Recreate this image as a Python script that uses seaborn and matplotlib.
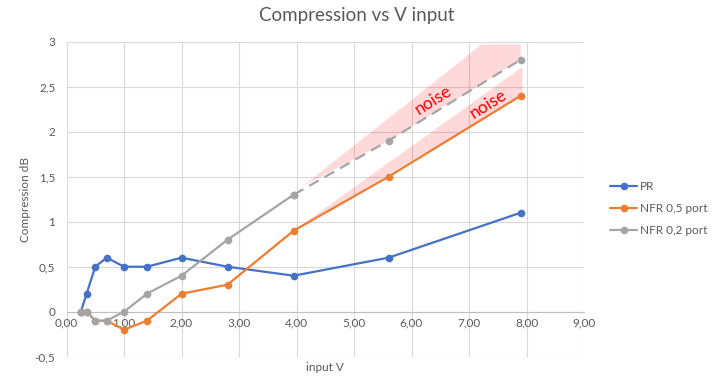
import pandas as pd
import matplotlib.pyplot as plt
import seaborn as sns
from matplotlib.ticker import FuncFormatter, MultipleLocator
from matplotlib.lines import Line2D

# Data
input_v = [0.25, 0.35, 0.5, 0.7, 1.0, 1.4, 2.0, 2.8, 3.95, 5.6, 7.9]
pr = [0, 0.2, 0.5, 0.6, 0.5, 0.5, 0.6, 0.5, 0.4, 0.6, 1.1]
nfr_05 = [0, 0, -0.1, -0.1, -0.2, -0.1, 0.2, 0.3, 0.9, 1.5, 2.4]
nfr_02 = [0, 0, -0.1, -0.1, 0, 0.2, 0.4, 0.8, 1.3, 1.9, 2.8]
labels = ['PR', 'NFR 0,5 port', 'NFR 0,2 port']
colors = ['#4472C4', '#ED7D31', '#A5A5A5']

# "noise" bands (x, y corners)
band_02_x = [4.1, 7.22, 7.9, 7.9, 5.6]
band_02_y = [1.39, 2.97, 2.97, 2.8, 1.9]
band_05_x = [3.95, 7.93, 7.93]
band_05_y = [0.9, 2.72, 2.4]

df = pd.DataFrame({'input V': input_v, 'PR': pr,
                   'NFR 0,5 port': nfr_05, 'NFR 0,2 port': nfr_02})

sns.set_theme(style='white')
plt.rcParams['font.family'] = ['Lato', 'DejaVu Sans']
text_col = '#595959'

fig = plt.figure(figsize=(7.13, 3.86), dpi=100)
ax = fig.add_axes([66.5 / 713, 1 - 356.7 / 386, (584 - 66.5) / 713, (356.7 - 41.7) / 386])

# noise shading
ax.fill(band_02_x, band_02_y, color='#ff0000', alpha=0.15, lw=0, zorder=1)
ax.fill(band_05_x, band_05_y, color='#ff0000', alpha=0.15, lw=0, zorder=1)

line_kw = dict(marker='o', markersize=5.5, linewidth=1.6, markeredgewidth=0)
sns.lineplot(data=df, x='input V', y='PR', color=colors[0], ax=ax, zorder=3, **line_kw)
sns.lineplot(data=df, x='input V', y='NFR 0,5 port', color=colors[1], ax=ax, zorder=3, **line_kw)
solid = df[df['input V'] <= 3.95]
dashed = df[df['input V'] >= 3.95]
sns.lineplot(data=solid, x='input V', y='NFR 0,2 port', color=colors[2], ax=ax, zorder=3, **line_kw)
sns.lineplot(data=dashed, x='input V', y='NFR 0,2 port', color=colors[2], ax=ax, zorder=3,
             dashes=False, linestyle=(0, (5, 3)), **line_kw)

ax.text(6.38, 2.35, 'noise', color='red', fontsize=12.5, rotation=32,
        ha='center', va='center', rotation_mode='anchor', zorder=4)
ax.text(7.34, 2.31, 'noise', color='red', fontsize=12.5, rotation=32,
        ha='center', va='center', rotation_mode='anchor', zorder=4)

ax.set_xlim(0, 9)
ax.set_ylim(-0.5, 3)
ax.xaxis.set_major_locator(MultipleLocator(1))
ax.yaxis.set_major_locator(MultipleLocator(0.5))
ax.xaxis.set_major_formatter(FuncFormatter(lambda v, p: f'{v:.2f}'.replace('.', ',')))
ax.yaxis.set_major_formatter(FuncFormatter(
    lambda v, p: (f'{v:.0f}' if abs(v - round(v)) < 1e-9 else f'{v:.1f}').replace('.', ',')))

ax.grid(True, color='#d9d9d9', linewidth=0.8, zorder=0)
ax.set_axisbelow(True)
for s in ['top', 'right', 'left']:
    ax.spines[s].set_visible(False)
ax.spines['bottom'].set_position(('data', 0))
ax.spines['bottom'].set_color('#bfbfbf')
ax.spines['bottom'].set_linewidth(0.8)
ax.tick_params(axis='x', length=0, pad=4, labelsize=8.5, colors=text_col)
ax.tick_params(axis='y', length=0, pad=8, labelsize=8.5, colors=text_col)

ax.set_xlabel('input V', fontsize=8.5, color=text_col)
ax.set_ylabel('Compression dB', fontsize=8.5, color=text_col)
ax.xaxis.set_label_coords(0.5, -(362 - 356.7) / 315)
ax.yaxis.set_label_coords(-(66.5 - 31) / 517.5, 0.5)
fig.text(0.5, 1 - 15 / 386, 'Compression vs V input', ha='center', va='center',
         fontsize=13.5, color=text_col)

handles = [Line2D([], [], color=c, marker='o', markersize=5.5, linewidth=1.6, markeredgewidth=0)
           for c in colors]
leg = fig.legend(handles, labels, loc='center left', bbox_to_anchor=(610 / 713, 1 - 208.7 / 386),
                 frameon=False, fontsize=8.5, handlelength=2.3, handletextpad=0.2,
                 labelspacing=0.95, borderaxespad=0, borderpad=0)
for t in leg.get_texts():
    t.set_color(text_col)

fig.savefig('out.png', dpi=100)
